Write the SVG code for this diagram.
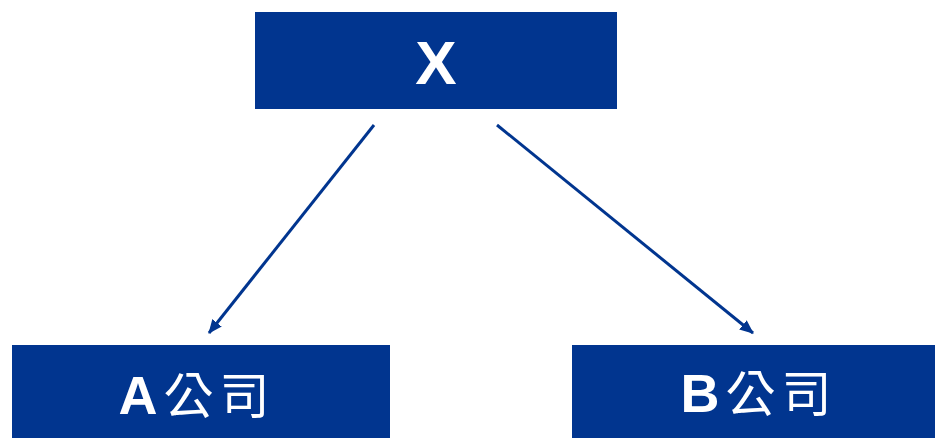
<svg xmlns="http://www.w3.org/2000/svg" width="936" height="438" viewBox="0 0 936 438">
<style>
.box{fill:#01358F}
.t{fill:#fff;font-family:"Liberation Sans","Noto Sans CJK SC",sans-serif;font-weight:bold;text-anchor:middle}
.cjk{font-family:"Noto Sans CJK TC","Noto Sans CJK SC",sans-serif;font-weight:normal;font-size:50px}
.c{stroke:#01358F;stroke-width:3;fill:none}
</style>
<defs>
<marker id="ah" viewBox="0 0 14 12" refX="13" refY="6" markerWidth="14" markerHeight="12" orient="auto" markerUnits="userSpaceOnUse">
<path d="M0,0 L14,6 L0,12 z" fill="#01358F"/>
</marker>
</defs>
<rect width="936" height="438" fill="#fff"/>
<g id="connectors">
<line class="c" x1="374" y1="125" x2="209" y2="333" marker-end="url(#ah)"/>
<line class="c" x1="497" y1="125" x2="753" y2="333" marker-end="url(#ah)"/>
</g>
<g id="node-x">
<rect class="box" x="255" y="12" width="362" height="97"/>
<text class="t" x="436" y="84" font-size="62">X</text>
</g>
<g id="node-a">
<rect class="box" x="12" y="345" width="378" height="93"/>
<text class="t" x="197" y="414" font-size="54" letter-spacing="6">A<tspan class="cjk">公司</tspan></text>
</g>
<g id="node-b">
<rect class="box" x="572" y="345" width="363" height="93"/>
<text class="t" x="759" y="412" font-size="54" letter-spacing="6">B<tspan class="cjk">公司</tspan></text>
</g>
</svg>
